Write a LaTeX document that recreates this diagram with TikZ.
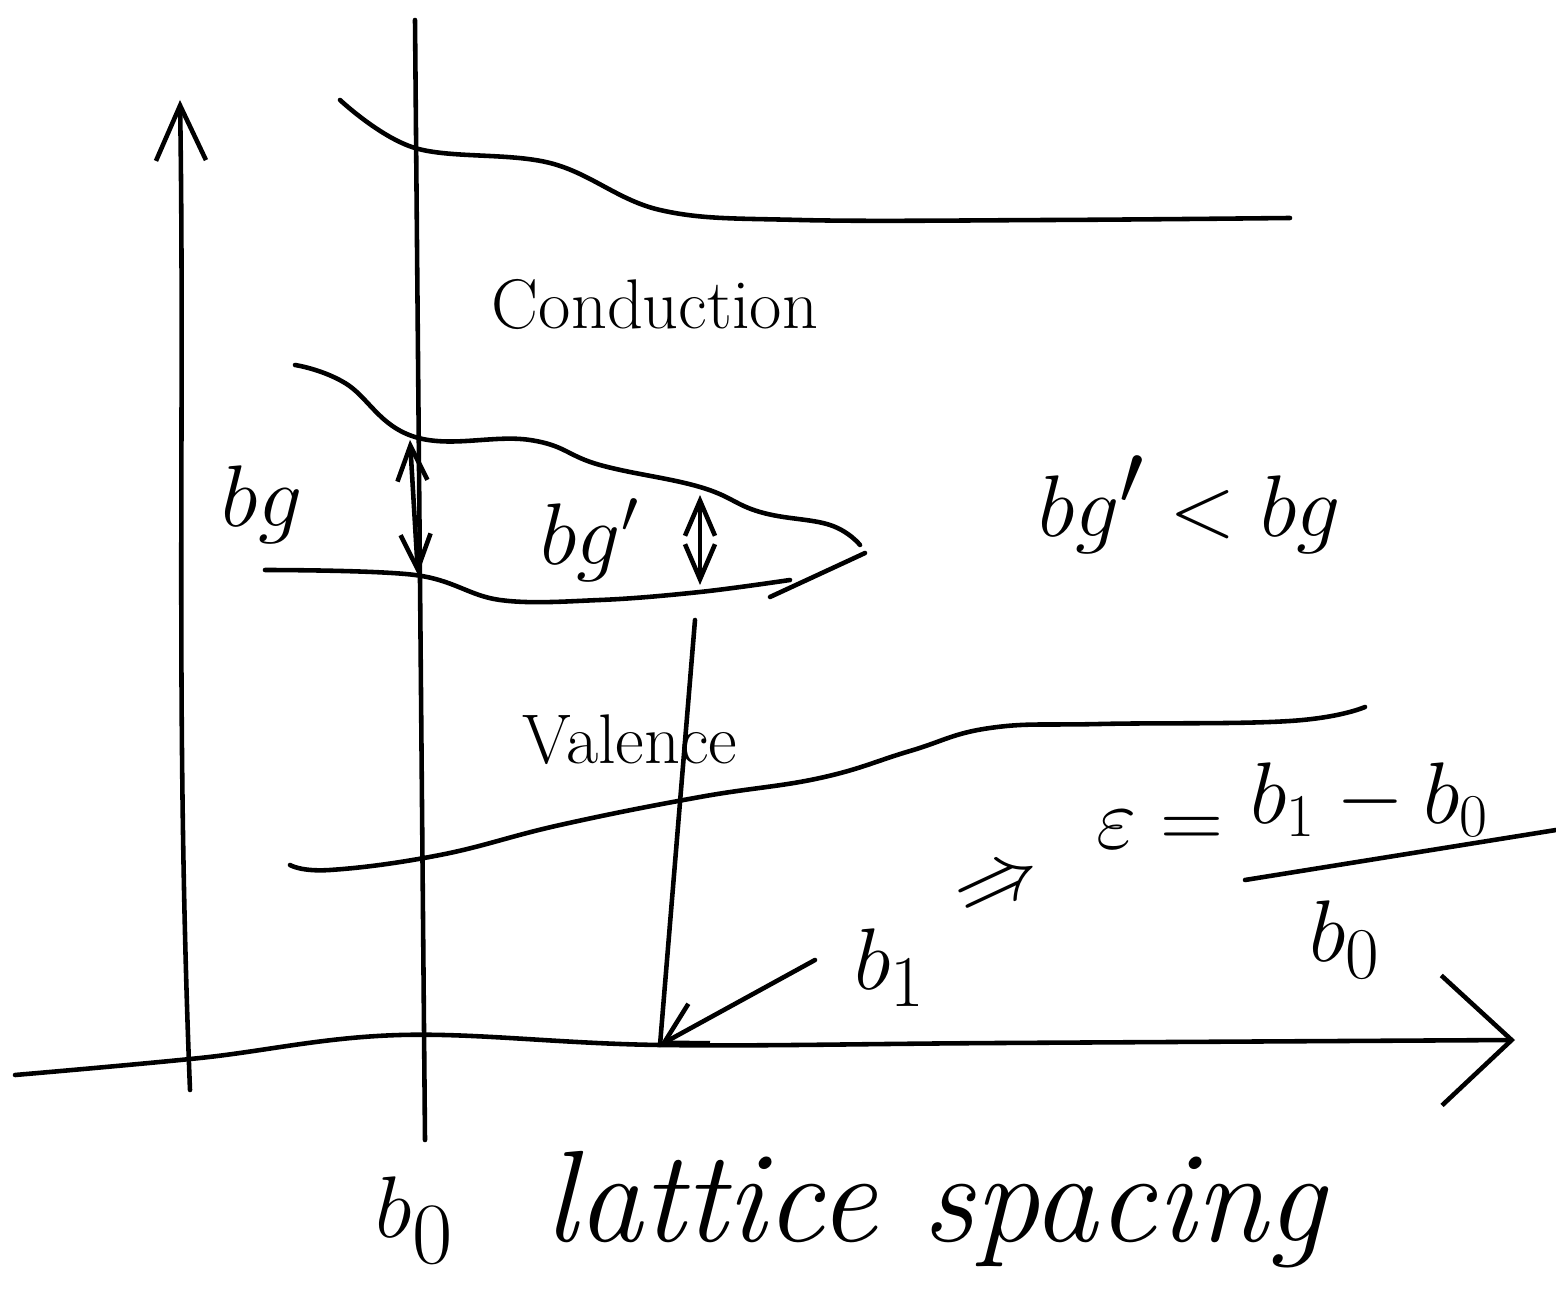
\documentclass[tikz,border=0pt]{standalone}
\usetikzlibrary{arrows.meta}
\begin{document}
\begin{tikzpicture}[x=1cm, y=1cm,
    pen/.style={line width=1.3pt, line cap=round, line join=round},
    axisarrow/.style={pen, -{Straight Barb[length=5.5mm, width=5mm]}},
    gaparrow/.style={pen, {Straight Barb[length=3.5mm, width=3mm]}-{Straight Barb[length=3.5mm, width=3mm]}},
    hand/.style={font=\fontsize{20}{24}\selectfont, inner sep=0pt}]
    \useasboundingbox (0,0) rectangle (15.56,13.13);

    % axes
    \coordinate (E0) at (1.90,2.23);
    \coordinate (E1) at (1.80,12.13);
    \draw[axisarrow] (E0) .. controls (1.75,6) and (1.85,9) .. (E1);
    \draw[pen, -{Straight Barb[length=7mm, width=13mm]}]
        plot[smooth, tension=0.6] coordinates {(0.15,2.38) (2,2.55) (4,2.78) (6.6,2.68) (10,2.70) (15.15,2.73)};

    % lattice spacings b0 and b1
    \coordinate (B0top) at (4.15,12.93);
    \coordinate (B0bot) at (4.25,1.73);
    \coordinate (B1top) at (6.95,6.93);
    \coordinate (B1bot) at (6.60,2.68);
    \draw[pen] (B0top) -- (B0bot);
    \draw[pen] (B1top) -- (B1bot);

    % conduction band
    \draw[pen] plot[smooth, tension=0.6] coordinates {(3.40,12.13) (4.15,11.65) (5.5,11.50) (6.6,11.03) (8.0,10.93) (10.5,10.93) (12.9,10.95)};
    \draw[pen] plot[smooth, tension=0.7] coordinates {(2.95,9.48) (3.45,9.30) (4.15,8.76) (5.3,8.73) (6.0,8.48) (7.0,8.26) (7.6,8.01) (8.3,7.88) (8.6,7.68)};

    % valence band
    \draw[pen] plot[smooth, tension=0.6] coordinates {(2.65,7.43) (4.15,7.38) (5.0,7.13) (6.0,7.13) (7.0,7.21) (7.9,7.33)};
    \draw[pen] plot[smooth, tension=0.6] coordinates {(7.7,7.16) (8.5,7.53) (8.65,7.60)};
    \draw[pen] plot[smooth, tension=0.7] coordinates {(2.90,4.48) (3.30,4.43) (4.4,4.58) (5.6,4.88) (7.0,5.16) (8.2,5.35) (9.1,5.62) (9.9,5.85) (11.0,5.89) (12.9,5.92) (13.65,6.06)};

    % band gaps
    \coordinate (G0) at (4.10,8.73);
    \coordinate (G1) at (4.18,7.38);
    \coordinate (H0) at (7.00,8.18);
    \coordinate (H1) at (7.00,7.28);
    \draw[gaparrow] (G0) -- (G1);
    \draw[gaparrow] (H0) -- (H1);

    \node[hand] (cond) at (6.55,10.08) {Conduction};
    \node[hand] (val) at (6.30,5.73) {Valence};
    \node[hand, font=\fontsize{26}{30}\selectfont] (bg) at (2.62,8.08) {$bg$};
    \node[hand, font=\fontsize{24}{28}\selectfont] (bgp) at (5.90,7.73) {$bg'$};
    \node[hand, font=\fontsize{37}{42}\selectfont] (cmp) at (11.90,8.08) {$bg' < bg$};

    % strain
    \node[hand, font=\fontsize{30}{36}\selectfont] (b1) at (8.90,3.45) {$b_1$};
    \node[hand, font=\fontsize{28}{34}\selectfont, rotate=25] (impl) at (10.00,4.25) {$\Rightarrow$};
    \coordinate (P0) at (8.15,3.53);
    \draw[pen, -{Straight Barb[length=4mm, width=4.5mm]}] (P0) -- (B1bot);
    \node[hand, font=\fontsize{26}{32}\selectfont] (eps) at (11.60,4.83) {$\varepsilon =$};
    \node[hand, font=\fontsize{26}{32}\selectfont] (num) at (13.70,5.13) {$b_1 - b_0$};
    \node[hand, font=\fontsize{28}{34}\selectfont] (den) at (13.45,3.73) {$b_0$};
    \coordinate (F0) at (12.45,4.33);
    \coordinate (F1) at (15.56,4.83);
    \draw[pen] (F0) -- (F1);

    \node[hand, font=\fontsize{38}{44}\selectfont] (b0) at (4.15,0.93) {$b_0$};
    \node[hand, font=\fontsize{37}{42}\selectfont\itshape] (xlab) at (9.35,1.03) {lattice spacing};
\end{tikzpicture}
\end{document}
